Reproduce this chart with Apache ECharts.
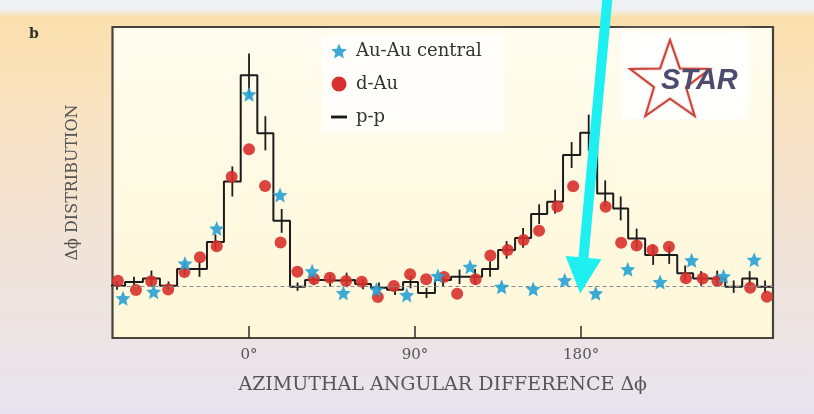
<!DOCTYPE html>
<html>
<head>
<meta charset="utf-8">
<script src="https://cdn.jsdelivr.net/npm/echarts@6/dist/echarts.min.js"></script>
<style>
  html, body { margin: 0; padding: 0; }
  body {
    width: 814px; height: 414px; overflow: hidden;
    background: linear-gradient(to bottom, #eef1f5 0px, #eef0f3 9px, #fbe0ad 17px, #f9e3c4 120px, #f0e3da 260px, #e8e4ef 414px);
  }
  #chart { width: 814px; height: 414px; }
</style>
</head>
<body>
<div id="chart"></div>
<script>
// Azimuthal correlation of high-pT hadrons: p-p, d-Au and central Au-Au (STAR)

// p-p reference histogram: bin edges (degrees), contents and statistical errors
const ppEdges = [-76, -67.2, -57.5, -48.3, -39.0, -30.9, -22.8, -13.6, -4.5, 4.5, 13.2, 22.2,
  30.4, 39.6, 48.3, 57.5, 66.1, 74.8, 83.5, 91.6, 100.8, 109.5, 118.7, 126.3, 135.0, 144.2,
  152.9, 161.6, 170.2, 179.5, 188.7, 197.4, 205.5, 214.7, 223.4, 232.1, 240.7, 249.4, 258.1,
  267.3, 275.4, 284];
const ppValues = [1.01, 1.08, 1.15, 1.01, 1.33, 1.33, 1.85, 3.02, 5.07, 3.95, 2.26, 0.99,
  1.12, 1.11, 1.12, 1.04, 0.97, 0.93, 1.08, 0.87, 1.12, 1.18, 1.18, 1.33, 1.70, 1.93,
  2.39, 2.63, 3.53, 3.96, 2.79, 2.50, 1.92, 1.60, 1.60, 1.25, 1.15, 1.15, 0.99, 1.15, 0.99];
const ppErrors = [0.08, 0.10, 0.15, 0.08, 0.12, 0.15, 0.15, 0.29, 0.42, 0.33, 0.23, 0.08,
  0.10, 0.12, 0.14, 0.10, 0.10, 0.10, 0.12, 0.10, 0.12, 0.14, 0.15, 0.15, 0.17, 0.19,
  0.19, 0.23, 0.25, 0.35, 0.25, 0.23, 0.19, 0.19, 0.17, 0.15, 0.14, 0.15, 0.12, 0.14, 0.12];

// d-Au points
const dAuAngles = [-71.1, -61.3, -53.0, -43.8, -35.0, -26.6, -17.5, -9.4, 0, 8.7, 17.1, 26.2,
  35.2, 43.8, 52.6, 61.1, 69.8, 78.5, 87.3, 96.0, 105.7, 112.8, 122.8, 130.8, 140.2, 148.8,
  157.2, 167.1, 175.7, 193.3, 201.7, 210.1, 218.7, 227.6, 236.8, 245.9, 253.9, 271.6, 280.7];
const dAuValues = [1.106, 0.926, 1.096, 0.936, 1.273, 1.557, 1.769, 3.112, 3.641, 2.933, 1.843, 1.279,
  1.138, 1.163, 1.100, 1.086, 0.791, 1.003, 1.231, 1.133, 1.177, 0.853, 1.133, 1.592, 1.698, 1.891,
  2.068, 2.539, 2.927, 2.533, 1.839, 1.785, 1.698, 1.762, 1.152, 1.148, 1.100, 0.969, 0.797];

// Au-Au central points
const auAuAngles = [-68.3, -51.7, -34.7, -17.5, 0, 16.8, 34.2, 51.1, 69.1, 85.5, 102.4, 119.8,
  136.9, 154.0, 171.1, 187.9, 205.3, 222.8, 239.9, 257.2, 273.8];
const auAuValues = [0.766, 0.893, 1.437, 2.113, 4.702, 2.759, 1.289, 0.868, 0.936, 0.830, 1.196, 1.376,
  0.988, 0.945, 1.113, 0.862, 1.325, 1.080, 1.499, 1.190, 1.511];

// axis
const xTicks = [0, 90, 180];
const xRange = [-74, 284];
const yRange = [0, 6];
const pedestal = 1.0;

// annotation arrow points at the missing away-side peak
const arrowTarget = [179.5, 0.86];

const starPath = (function () {
  const pts = [];
  for (let i = 0; i < 10; i++) {
    const r = i % 2 === 0 ? 10 : 4.6;
    const a = -Math.PI / 2 + i * Math.PI / 5;
    pts.push((10 + r * Math.cos(a)).toFixed(2) + ',' + (10 + r * Math.sin(a)).toFixed(2));
  }
  return 'path://M' + pts.join(' L') + ' Z';
})();
const dashPath = 'path://M0,0 L11,0 L11,2 L0,2 Z';

const ppStep = ppValues.map((v, i) => [ppEdges[i], v]);
ppStep.push([ppEdges[ppEdges.length - 1], ppValues[ppValues.length - 1]]);
const ppBars = ppValues.map((v, i) => [(ppEdges[i] + ppEdges[i + 1]) / 2, v, ppErrors[i]]);

const serif = 'DejaVu Serif';
const chart = echarts.init(document.getElementById('chart'), null, { renderer: 'canvas' });

chart.setOption({
  animation: false,
  title: {
    text: 'b', left: 24, top: 22,
    textStyle: { fontFamily: serif, fontWeight: 'bold', fontSize: 14, color: '#2f2f2f' }
  },
  legend: {
    orient: 'vertical', left: 326, top: 37,
    itemWidth: 16, itemHeight: 15, itemGap: 15,
    textStyle: { fontFamily: serif, fontSize: 18, color: '#333', padding: [0, 0, 0, 4] },
    data: [
      { name: 'Au-Au central', icon: starPath },
      { name: 'd-Au', icon: 'circle', itemStyle: { opacity: 1 } },
      { name: 'p-p', icon: dashPath }
    ]
  },
  grid: {
    left: 112.5, right: 41, top: 27, bottom: 76,
    show: true,
    backgroundColor: new echarts.graphic.LinearGradient(0, 0, 0, 1, [
      { offset: 0, color: '#fffcee' }, { offset: 1, color: '#fff7d8' }
    ]),
    borderColor: '#44443c', borderWidth: 2.2
  },
  xAxis: {
    type: 'value', min: xRange[0], max: xRange[1],
    axisLine: { show: false },
    splitLine: { show: false },
    axisTick: { customValues: xTicks, inside: true, length: 12, lineStyle: { color: '#2b2b2b', width: 1.5 } },
    axisLabel: {
      customValues: xTicks, formatter: v => v + '°', margin: 10,
      fontFamily: serif, fontSize: 15, color: '#555'
    },
    name: 'AZIMUTHAL ANGULAR DIFFERENCE Δϕ',
    nameLocation: 'middle', nameGap: 38,
    nameTextStyle: { fontFamily: serif, fontSize: 19, color: '#555' }
  },
  yAxis: {
    type: 'value', min: yRange[0], max: yRange[1],
    axisLine: { show: false }, axisTick: { show: false },
    axisLabel: { show: false }, splitLine: { show: false },
    name: 'Δϕ DISTRIBUTION',
    nameLocation: 'middle', nameRotate: 90, nameGap: 32,
    nameTextStyle: { fontFamily: serif, fontSize: 16, color: '#555' }
  },
  series: [
    {
      name: 'p-p', type: 'line', step: 'end', data: ppStep,
      symbol: 'none', clip: true, z: 3,
      lineStyle: { color: '#1b1b1b', width: 2 },
      itemStyle: { color: '#1b1b1b' },
      markLine: {
        silent: true, symbol: 'none', label: { show: false },
        lineStyle: { color: '#8a8a8a', type: [4, 3], width: 1 },
        data: [{ yAxis: pedestal }]
      }
    },
    {
      name: 'p-p errors', type: 'custom', data: ppBars, z: 3, clip: true,
      renderItem: function (params, api) {
        const x = api.value(0), y = api.value(1), e = api.value(2);
        const p1 = api.coord([x, y - e]);
        const p2 = api.coord([x, y + e]);
        return {
          type: 'line',
          shape: { x1: p1[0], y1: p1[1], x2: p2[0], y2: p2[1] },
          style: { stroke: '#1b1b1b', lineWidth: 1.8 }
        };
      }
    },
    {
      name: 'd-Au', type: 'scatter', symbol: 'circle', symbolSize: 12, z: 4,
      data: dAuAngles.map((a, i) => [a, dAuValues[i]]),
      itemStyle: { color: '#d8302c', opacity: 0.9 }
    },
    {
      name: 'Au-Au central', type: 'scatter', symbol: starPath, symbolSize: 15, z: 5,
      data: auAuAngles.map((a, i) => [a, auAuValues[i]]),
      itemStyle: { color: '#2ba3d3', opacity: 0.92 }
    }
  ]
});

// decorations: legend panel, STAR logo and the pointer arrow
const tip = chart.convertToPixel({ gridIndex: 0 }, arrowTarget);
const dir = [0.0918, -0.9958];
const nrm = [-dir[1], dir[0]];
function along(p, t, s) { return [p[0] + dir[0] * t + nrm[0] * s, p[1] + dir[1] * t + nrm[1] * s]; }
const headLen = 36, headHalf = 18, shaftHalf = 5, tailLen = 340;
const arrowPts = [
  tip,
  along(tip, headLen, headHalf), along(tip, headLen, shaftHalf),
  along(tip, tailLen, shaftHalf), along(tip, tailLen, -shaftHalf),
  along(tip, headLen, -shaftHalf), along(tip, headLen, -headHalf)
];

const logoC = [670, 82], logoR = 42;
const logoPts = [];
for (let i = 0; i < 10; i++) {
  const r = i % 2 === 0 ? logoR : logoR * 0.4;
  const a = -Math.PI / 2 + i * Math.PI / 5;
  logoPts.push([logoC[0] + r * Math.cos(a), logoC[1] + r * Math.sin(a)]);
}

chart.setOption({
  graphic: [
    {
      type: 'rect', z: 1, silent: true,
      shape: { x: 322, y: 36, width: 182, height: 96 },
      style: { fill: 'rgba(255,255,255,0.55)', shadowBlur: 12, shadowColor: 'rgba(255,255,255,0.9)' }
    },
    {
      type: 'rect', z: 1, silent: true,
      shape: { x: 622, y: 33, width: 126, height: 86 },
      style: { fill: 'rgba(255,255,255,0.7)', shadowBlur: 12, shadowColor: 'rgba(255,255,255,0.9)' }
    },
    {
      type: 'polygon', z: 6, silent: true,
      shape: { points: logoPts },
      style: { fill: 'none', stroke: '#c9473a', lineWidth: 2, shadowBlur: 2, shadowColor: 'rgba(200,70,60,0.5)' }
    },
    {
      type: 'text', z: 7, silent: true, x: 661, y: 81,
      style: {
        text: 'STAR', fill: '#4d4b6e', font: 'italic bold 29px "Liberation Sans"',
        textVerticalAlign: 'middle', verticalAlign: 'middle'
      }
    },
    {
      type: 'polygon', z: 100, silent: true,
      shape: { points: arrowPts },
      style: { fill: '#1ef0f2' }
    }
  ]
});
</script>
</body>
</html>
